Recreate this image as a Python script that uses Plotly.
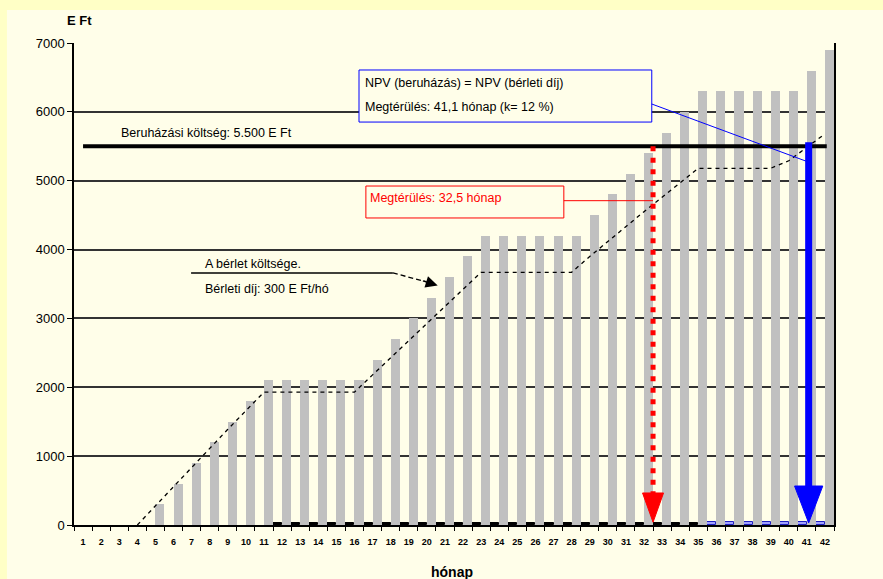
import plotly.graph_objects as go

# ---- data -------------------------------------------------------------
months = list(range(1, 43))
month_labels = [str(m) for m in months]

# cumulative rent paid (E Ft) per month
rent_paid = [0, 0, 0, 0, 300, 600, 900, 1200, 1500, 1800,
             2100, 2100, 2100, 2100, 2100, 2100, 2400, 2700, 3000, 3300,
             3600, 3900, 4200, 4200, 4200, 4200, 4200, 4200, 4500, 4800,
             5100, 5400, 5700, 6000, 6300, 6300, 6300, 6300, 6300, 6300,
             6600, 6900]

# present value of the rent paid so far (dashed curve), from month 4
npv_months = list(range(4, 43))
rent_npv = [0, 280, 560, 840, 1110, 1390, 1660, 1930,
            1930, 1930, 1930, 1930, 1930,
            2180, 2430, 2680, 2930, 3180, 3430, 3670,
            3670, 3670, 3670, 3670, 3670,
            3900, 4120, 4340, 4550, 4760, 4970, 5180,
            5180, 5180, 5180, 5180,
            5290, 5490, 5680]

# small companion series drawn beside the rent bars
side_values = [0] * 11 + [35] * 24 + [45] * 7

investment = 5500          # E Ft
payback_simple = 32.5      # months
payback_npv = 41.1         # months
y_ticks = [0, 1000, 2000, 3000, 4000, 5000, 6000, 7000]

# ---- styling ----------------------------------------------------------
FONT = "Liberation Sans, Arial, sans-serif"
CREAM = "#FFFEE9"
OUTER = "#FFFFC6"
GRAY = "#C0C0C0"
RED = "#FF0000"
BLUE = "#0000FF"

side_fill = ["rgba(0,0,0,0)" if m < 12 else ("#000000" if m <= 35 else "#A0A0FF") for m in months]
side_edge = ["rgba(0,0,0,0)" if m < 12 else ("#000000" if m <= 35 else "#2020C0") for m in months]

fig = go.Figure()

fig.add_trace(go.Bar(
    x=months, y=side_values,
    marker=dict(color=side_fill, line=dict(color=side_edge, width=1)),
    hoverinfo="skip", showlegend=False))

fig.add_trace(go.Bar(
    x=months, y=rent_paid,
    marker=dict(color=GRAY, line=dict(width=0)),
    showlegend=False))

# discounted rent cost
fig.add_trace(go.Scatter(
    x=npv_months, y=rent_npv, mode="lines",
    line=dict(color="#000000", width=1.3, dash="4px,4px"),
    showlegend=False))

# investment cost level
fig.add_trace(go.Scatter(
    x=[months[0], months[-1] + 0.1], y=[investment, investment], mode="lines",
    line=dict(color="#000000", width=4), showlegend=False))

# simple payback arrow (red, dotted)
red_base = 465
red_half = 0.58
fig.add_trace(go.Scatter(
    x=[payback_simple, payback_simple], y=[investment, red_base], mode="lines",
    line=dict(color=RED, width=5, dash="5px,6.5px"), showlegend=False))
fig.add_trace(go.Scatter(
    x=[payback_simple - red_half, payback_simple + red_half, payback_simple, payback_simple - red_half],
    y=[red_base, red_base, 40, red_base], mode="lines", fill="toself",
    fillcolor=RED, line=dict(color=RED, width=1), showlegend=False))

# discounted payback arrow (blue, solid)
blue_base = 566
blue_half = 0.78
fig.add_trace(go.Scatter(
    x=[payback_npv, payback_npv], y=[investment + 60, blue_base], mode="lines",
    line=dict(color=BLUE, width=7), showlegend=False))
fig.add_trace(go.Scatter(
    x=[payback_npv - blue_half, payback_npv + blue_half, payback_npv, payback_npv - blue_half],
    y=[blue_base, blue_base, 30, blue_base], mode="lines", fill="toself",
    fillcolor=BLUE, line=dict(color=BLUE, width=1), showlegend=False))

shapes = [
    # chart area background inside the yellow frame
    dict(type="rect", xref="paper", yref="paper", x0=-0.0882, x1=1.07, y0=-0.12, y1=1.0685,
         fillcolor=CREAM, line=dict(width=0), layer="below"),
    # NPV callout
    dict(type="rect", xref="x", yref="y", x0=16.25, x1=32.43, y0=5852, y1=6608,
         fillcolor=CREAM, line=dict(color=BLUE, width=1), layer="above"),
    dict(type="line", xref="x", yref="y", x0=32.43, y0=6114, x1=payback_npv, y1=5270,
         line=dict(color=BLUE, width=1), layer="above"),
    # simple payback callout
    dict(type="rect", xref="x", yref="y", x0=16.63, x1=27.57, y0=4459, y1=4923,
         fillcolor=CREAM, line=dict(color=RED, width=1), layer="above"),
    dict(type="line", xref="x", yref="y", x0=27.57, y0=4710, x1=payback_simple, y1=4710,
         line=dict(color=RED, width=1), layer="above"),
    # rent-cost label underline and pointer
    dict(type="line", xref="x", yref="y", x0=6.97, y0=3660, x1=18.12, y1=3660,
         line=dict(color="#000000", width=1.3), layer="above"),
    dict(type="line", xref="x", yref="y", x0=18.12, y0=3660, x1=19.95, y1=3535,
         line=dict(color="#000000", width=1.3, dash="5px,3px"), layer="above"),
]

annotations = [
    dict(text="<b>E Ft</b>", xref="paper", yref="paper", x=-0.0118, y=1.0477,
         xanchor="left", yanchor="middle", showarrow=False, font=dict(size=13, color="#000")),
    dict(text="<b>hónap</b>", xref="paper", yref="paper", x=0.497, y=-0.0975,
         xanchor="center", yanchor="middle", showarrow=False, font=dict(size=14, color="#000")),
    dict(text="Beruházási költség: 5.500 E Ft", xref="x", yref="y", x=3.0, y=5690,
         xanchor="left", yanchor="middle", showarrow=False, font=dict(size=12.5, color="#000")),
    dict(text="NPV (beruházás) = NPV (bérleti díj)", xref="x", yref="y", x=16.46, y=6419,
         xanchor="left", yanchor="middle", showarrow=False, font=dict(size=12.5, color="#000")),
    dict(text="Megtérülés: 41,1 hónap (k= 12 %)", xref="x", yref="y", x=16.46, y=6070,
         xanchor="left", yanchor="middle", showarrow=False, font=dict(size=12.5, color="#000")),
    dict(text="Megtérülés: 32,5 hónap", xref="x", yref="y", x=16.74, y=4749,
         xanchor="left", yanchor="middle", showarrow=False, font=dict(size=12.5, color=RED)),
    dict(text="A bérlet költsége.", xref="x", yref="y", x=7.63, y=3790,
         xanchor="left", yanchor="middle", showarrow=False, font=dict(size=12.5, color="#000")),
    dict(text="Bérleti díj: 300 E Ft/hó", xref="x", yref="y", x=7.63, y=3427,
         xanchor="left", yanchor="middle", showarrow=False, font=dict(size=12.5, color="#000")),
    # arrow head of the rent-cost pointer
    dict(text="", xref="x", yref="y", x=20.6, y=3480, axref="x", ayref="y", ax=19.7, ay=3552,
         showarrow=True, arrowhead=2, arrowsize=1.6, arrowwidth=1.5, arrowcolor="#000"),
]

fig.update_layout(
    width=883, height=579,
    margin=dict(l=74, r=49, t=43, b=54),
    paper_bgcolor=OUTER, plot_bgcolor=CREAM,
    font=dict(family=FONT, color="#000"),
    barmode="group", bargap=0, bargroupgap=0,
    shapes=shapes, annotations=annotations,
    showlegend=False,
)

fig.update_xaxes(
    range=[0.5, 42.5], tickmode="array", tickvals=months, ticktext=month_labels,
    tickfont=dict(size=9, family=FONT, weight="bold"),
    ticks="outside", ticklen=7, tickcolor="rgba(0,0,0,0)",
    minor=dict(tick0=0.5, dtick=1, ticks="outside", ticklen=4, tickcolor="#000", showgrid=False),
    showline=True, linecolor="#000", linewidth=1.5,
    showgrid=False, zeroline=False, automargin=False,
)

fig.update_yaxes(
    range=[0, 7000], tickmode="array", tickvals=y_ticks,
    tickfont=dict(size=13),
    ticks="outside", ticklen=5, tickcolor="#000",
    showline=True, linecolor="#000", linewidth=1.5, mirror=True,
    showgrid=True, gridcolor="#333333", gridwidth=1.7,
    zeroline=False, automargin=False,
)

fig.write_html("out.html")
